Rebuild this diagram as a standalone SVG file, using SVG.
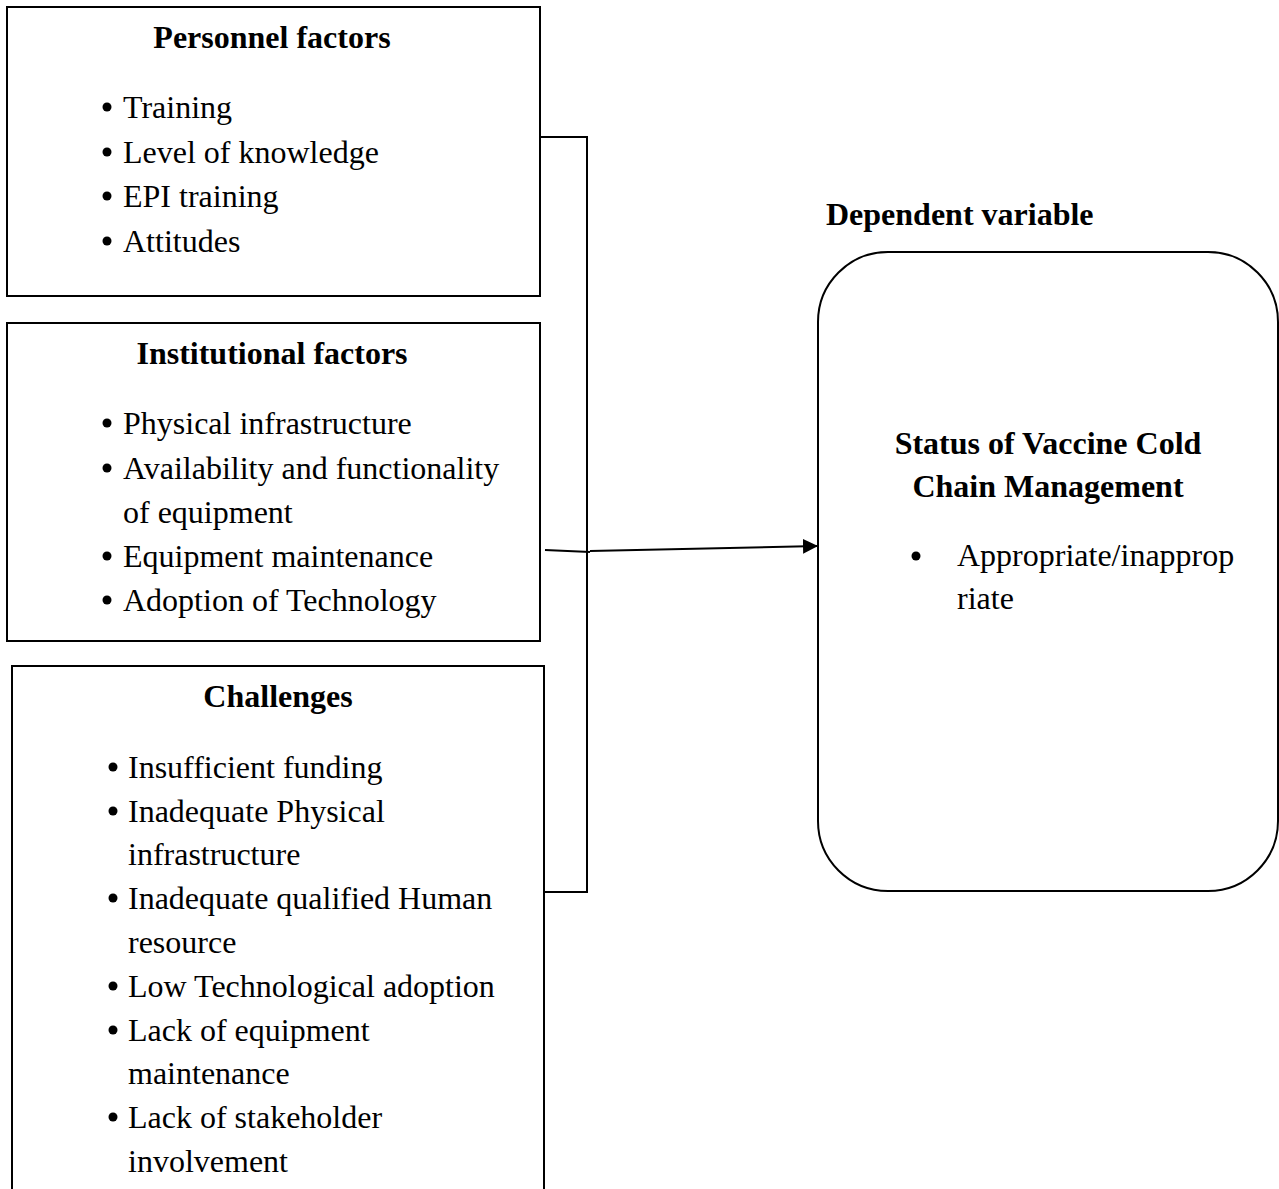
<svg xmlns="http://www.w3.org/2000/svg" width="1279" height="1189" viewBox="0 0 1279 1189">
<defs>
<style>
.box{fill:#fff;stroke:#000;stroke-width:2}
.t{font-family:"Liberation Serif","Times New Roman",serif;font-size:32px;fill:#000}
.b{font-weight:bold}
.c{text-anchor:middle}
.ln{fill:none;stroke:#000;stroke-width:2}
.dot{fill:#000}
</style>
<marker id="ah" markerWidth="16" markerHeight="16" refX="15" refY="7.5" orient="auto" markerUnits="userSpaceOnUse">
<path d="M0,0 L15,7.5 L0,15 Z" fill="#000"/>
</marker>
</defs>
<rect width="1279" height="1189" fill="#fff"/>
<g id="personnel">
<rect class="box" x="7" y="7" width="533" height="289"/>
<text class="t b c" x="272" y="48">Personnel factors</text>
<circle class="dot" cx="107" cy="107" r="4.5"/><text class="t" x="123" y="118">Training</text>
<circle class="dot" cx="107" cy="152" r="4.5"/><text class="t" x="123" y="163">Level of knowledge</text>
<circle class="dot" cx="107" cy="196" r="4.5"/><text class="t" x="123" y="207">EPI training</text>
<circle class="dot" cx="107" cy="241" r="4.5"/><text class="t" x="123" y="252">Attitudes</text>
</g>
<g id="institutional">
<rect class="box" x="7" y="323" width="533" height="318"/>
<text class="t b c" x="272" y="364">Institutional factors</text>
<circle class="dot" cx="107" cy="423" r="4.5"/><text class="t" x="123" y="434">Physical infrastructure</text>
<circle class="dot" cx="107" cy="468" r="4.5"/><text class="t" x="123" y="479">Availability and functionality</text>
<text class="t" x="123" y="523">of equipment</text>
<circle class="dot" cx="107" cy="556" r="4.5"/><text class="t" x="123" y="567">Equipment maintenance</text>
<circle class="dot" cx="107" cy="600" r="4.5"/><text class="t" x="123" y="611">Adoption of Technology</text>
</g>
<g id="challenges">
<path class="ln" d="M12,1195 L12,666 L544,666 L544,1195"/>
<text class="t b c" x="278" y="707">Challenges</text>
<circle class="dot" cx="113" cy="767" r="4.5"/><text class="t" x="128" y="778">Insufficient funding</text>
<circle class="dot" cx="113" cy="811" r="4.5"/><text class="t" x="128" y="822">Inadequate Physical</text>
<text class="t" x="128" y="865">infrastructure</text>
<circle class="dot" cx="113" cy="898" r="4.5"/><text class="t" x="128" y="909">Inadequate qualified Human</text>
<text class="t" x="128" y="953">resource</text>
<circle class="dot" cx="113" cy="986" r="4.5"/><text class="t" x="128" y="997">Low Technological adoption</text>
<circle class="dot" cx="113" cy="1030" r="4.5"/><text class="t" x="128" y="1041">Lack of equipment</text>
<text class="t" x="128" y="1084">maintenance</text>
<circle class="dot" cx="113" cy="1117" r="4.5"/><text class="t" x="128" y="1128">Lack of stakeholder</text>
<text class="t" x="128" y="1172">involvement</text>
</g>
<g id="dependent-label">
<text class="t b" x="826" y="225">Dependent variable</text>
</g>
<g id="status">
<rect class="box" x="818" y="252" width="460" height="639" rx="70" ry="70"/>
<text class="t b c" x="1048" y="454">Status of Vaccine Cold</text>
<text class="t b c" x="1048" y="497">Chain Management</text>
<circle class="dot" cx="916" cy="556" r="4.5"/><text class="t" x="957" y="566">Appropriate/inapprop</text>
<text class="t" x="957" y="609">riate</text>
</g>
<g id="connectors">
<path class="ln" d="M540,137 L587,137 L587,892 L544,892"/>
<path class="ln" d="M545,550 L590,552"/>
<path class="ln" d="M590,551 L818,546" marker-end="url(#ah)"/>
</g>
</svg>
